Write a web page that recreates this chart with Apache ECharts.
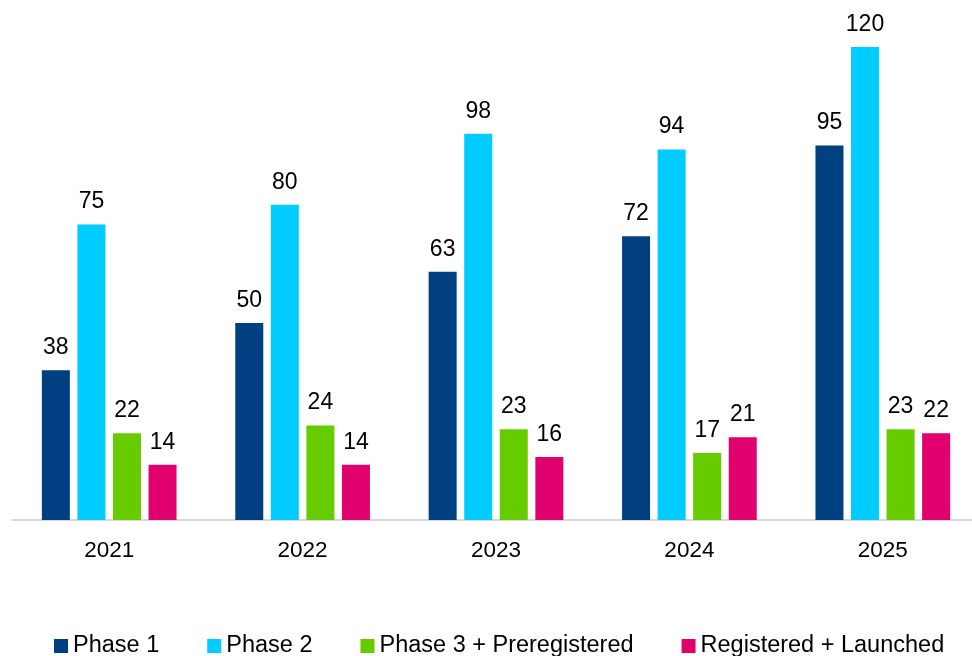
<!DOCTYPE html>
<html>
<head>
<meta charset="utf-8">
<script src="https://cdn.jsdelivr.net/npm/echarts@6/dist/echarts.min.js"></script>
<style>
html,body{margin:0;padding:0;background:#fff;}
#chart{width:972px;height:656px;}
</style>
</head>
<body>
<div id="chart"></div>
<script>
const categories = ['2021', '2022', '2023', '2024', '2025'];
const phase1 = [38, 50, 63, 72, 95];
const phase2 = [75, 80, 98, 94, 120];
const phase3 = [22, 24, 23, 17, 23];
const registered = [14, 14, 16, 21, 22];
const seriesNames = ['Phase 1', 'Phase 2', 'Phase 3 + Preregistered', 'Registered + Launched'];
const colors = ['#004080', '#00CCFF', '#66CC00', '#E0006E'];

const chart = echarts.init(document.getElementById('chart'), null, {renderer: 'canvas'});
const font = 'Liberation Sans, Arial, sans-serif';
const dataSets = [phase1, phase2, phase3, registered];
const series = dataSets.map((d, i) => ({
  name: seriesNames[i],
  type: 'bar',
  data: d,
  barWidth: 28,
  barGap: '27%',
  itemStyle: {color: colors[i]},
  label: {
    show: true,
    position: 'top',
    distance: 11,
    color: '#000',
    fontSize: 23,
    fontFamily: font
  }
}));

chart.setOption({
  animation: false,
  color: colors,
  grid: {left: 12.5, right: -7.5, top: 47, bottom: 136, containLabel: false, outerBoundsMode: 'none'},
  legend: {
    bottom: -7,
    left: 49,
    itemWidth: 14,
    itemHeight: 14,
    itemGap: 48,
    icon: 'rect',
    textStyle: {fontSize: 23.5, color: '#000', fontFamily: font},
    data: seriesNames
  },
  xAxis: {
    type: 'category',
    data: categories,
    axisLine: {show: true, lineStyle: {color: '#D9D9D9', width: 2}},
    axisTick: {show: false},
    axisLabel: {fontSize: 22.5, color: '#000', fontFamily: font, margin: 19}
  },
  yAxis: {
    type: 'value',
    min: 0,
    max: 120,
    show: false,
    splitLine: {show: false}
  },
  series: series
});
</script>
</body>
</html>
